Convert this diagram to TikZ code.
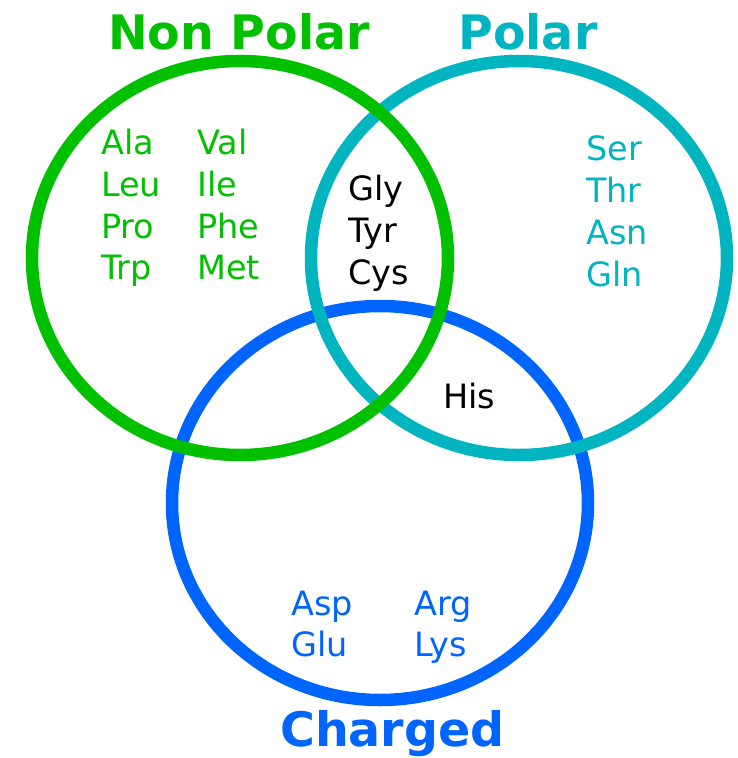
\documentclass[tikz,border=0pt]{standalone}
\usepackage{fontspec}
\setmainfont{DejaVu Sans}
\definecolor{npgreen}{RGB}{0,192,0}
\definecolor{polcyan}{RGB}{0,180,192}
\definecolor{chblue}{RGB}{0,100,255}
\begin{document}
\begin{tikzpicture}[x=1pt,y=-1pt,
  ring/.style={line width=12.5pt},
  title/.style={font=\fontsize{47.5}{56}\selectfont\bfseries, inner sep=0pt, anchor=base west},
  acid/.style={font=\fontsize{33.5}{40}\selectfont, inner sep=0pt, anchor=base west}]
\useasboundingbox (0,0) rectangle (737,758);
% rings
\coordinate (cc) at (380,503);
\coordinate (pc) at (519,258);
\coordinate (nc) at (240,258);
\draw[ring, chblue] (cc) ellipse [x radius=208pt, y radius=197pt];
\draw[ring, polcyan] (pc) ellipse [x radius=208pt, y radius=197pt];
\draw[ring, npgreen] (nc) ellipse [x radius=208pt, y radius=197pt];
% titles
\node[title, text=npgreen] (tnp) at (108,49) {Non Polar};
\node[title, text=polcyan] (tp) at (458,49) {Polar};
\node[title, text=chblue] (tc) at (280,746) {Charged};
% non polar
\node[acid, text=npgreen] (ala) at (101,154) {Ala};
\node[acid, text=npgreen] (leu) at (101,196) {Leu};
\node[acid, text=npgreen] (pro) at (101,238) {Pro};
\node[acid, text=npgreen] (trp) at (101,279) {Trp};
\node[acid, text=npgreen] (val) at (197,154) {Val};
\node[acid, text=npgreen] (ile) at (197,196) {Ile};
\node[acid, text=npgreen] (phe) at (197,238) {Phe};
\node[acid, text=npgreen] (met) at (197,279) {Met};
% shared
\node[acid] (gly) at (348,200) {Gly};
\node[acid] (tyr) at (348,242) {Tyr};
\node[acid] (cys) at (348,284) {Cys};
\node[acid] (his) at (443,408) {His};
% polar
\node[acid, text=polcyan] (ser) at (586,160) {Ser};
\node[acid, text=polcyan] (thr) at (586,202) {Thr};
\node[acid, text=polcyan] (asn) at (586,244) {Asn};
\node[acid, text=polcyan] (gln) at (586,286) {Gln};
% charged
\node[acid, text=chblue] (asp) at (291,615) {Asp};
\node[acid, text=chblue] (glu) at (291,656) {Glu};
\node[acid, text=chblue] (arg) at (414,615) {Arg};
\node[acid, text=chblue] (lys) at (414,656) {Lys};
\end{tikzpicture}
\end{document}
